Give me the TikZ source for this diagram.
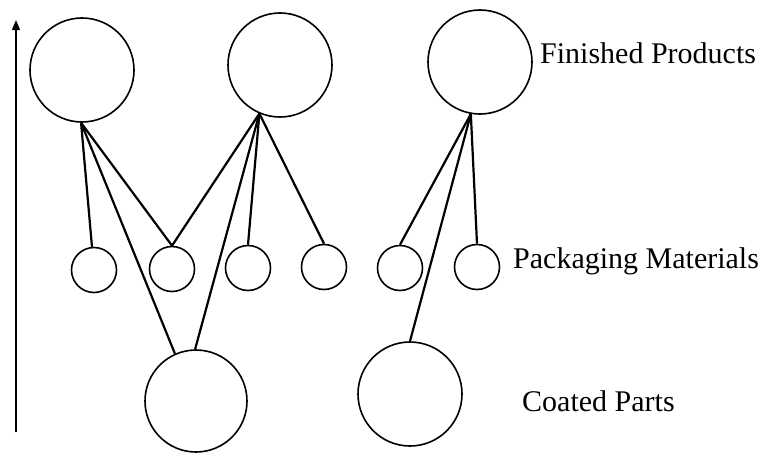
\documentclass[tikz,border=0pt]{standalone}
\usepackage{fontspec}
\setmainfont{Liberation Serif}
\usetikzlibrary{arrows.meta}
\begin{document}
\begin{tikzpicture}[x=1pt,y=-1pt,
  big/.style={circle,draw,line width=1.6pt,minimum size=104pt,inner sep=0pt},
  small/.style={circle,draw,line width=1.6pt,minimum size=45pt,inner sep=0pt},
  link/.style={line width=2.2pt},
  lbl/.style={anchor=base west,inner sep=0pt,font=\fontsize{30}{34}\selectfont}]
\useasboundingbox (0,0) rectangle (763,455);
% axis arrow
\coordinate (ab) at (16,432);
\coordinate (at) at (16,20);
\draw[line width=1.4pt,-{Triangle[length=10pt,width=8pt]}] (ab) -- (at);
% top
\node[big] (F1) at (82,70) {};
\node[big] (F2) at (280,65) {};
\node[big] (F3) at (480,62) {};
% middle
\node[small] (S1) at (94,270) {};
\node[small] (S2) at (172,269) {};
\node[small] (S3) at (248,268) {};
\node[small] (S4) at (324,267) {};
\node[small] (S5) at (400,268) {};
\node[small] (S6) at (477,267) {};
% bottom
\node[big,minimum size=102pt] (B1) at (196,401) {};
\node[big] (B2) at (410,394) {};
% links
\draw[link] (F1.-91) -- (S1.95);
\draw[link] (F1.-91) -- (S2.north);
\draw[link] (F1.-91) -- (B1.114);
\draw[link] (F2.-113) -- (S2.north);
\draw[link] (F2.-113) -- (S3.north);
\draw[link] (F2.-113) -- (S4.north);
\draw[link] (F2.-113) -- (B1.91);
\draw[link] (F3.-100) -- (S5.north);
\draw[link] (F3.-100) -- (S6.north);
\draw[link] (F3.-100) -- (B2.90);
% labels
\node[lbl] (t1) at (540,63) {Finished Products};
\node[lbl] (t2) at (513,268) {Packaging Materials};
\node[lbl] (t3) at (522,411) {Coated Parts};
\end{tikzpicture}
\end{document}
